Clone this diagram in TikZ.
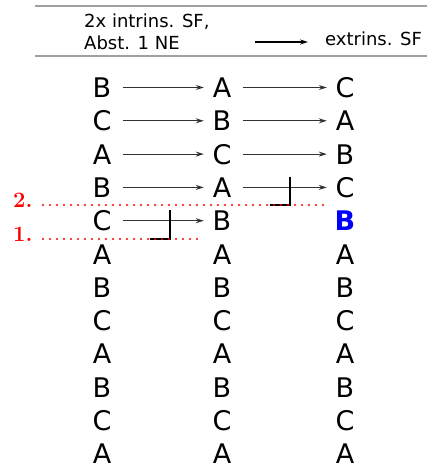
\documentclass[tikz,border=0pt]{standalone}
\usepackage{fontspec}
\setmainfont{DejaVu Sans}
\usetikzlibrary{arrows.meta}
\definecolor{rulegray}{RGB}{160,160,160}
\definecolor{arrgray}{RGB}{50,50,50}
\definecolor{dotred}{RGB}{255,0,0}
\definecolor{bblue}{RGB}{0,0,255}
\begin{document}
\begin{tikzpicture}[x=1pt,y=-1pt,
  letter/.style={font=\fontsize{27}{27}\selectfont, inner sep=0pt, minimum width=42pt,
    text height=20pt, text depth=0pt, anchor=base},
  arr/.style={draw=arrgray, line width=1.1pt, -{Stealth[length=8pt,width=5pt]}, shorten >=-3pt},
  hdr/.style={font=\fontsize{18}{22}\selectfont, inner sep=0pt, anchor=base west},
  rulel/.style={draw=rulegray, line width=2pt},
  brk/.style={draw=black, line width=2.4pt},
  reddot/.style={draw=dotred, line width=2.2pt, line cap=round, dash pattern=on 0pt off 7pt},
  redlab/.style={font=\fontspec{Latin Modern Roman}\bfseries\fontsize{22}{22}\selectfont, text=dotred, inner sep=0pt, anchor=base west}
]
\useasboundingbox (0,0) rectangle (427,470);
% header
\draw[rulel] (35,6) -- (427,6);
\draw[rulel] (35,56) -- (427,56);
\node[hdr] (h1) at (84,28) {2x intrins. SF,};
\node[hdr] (h2) at (84,50) {Abst. 1 NE};
\node[hdr] (h3) at (325,46) {extrins. SF};
\coordinate (hs) at (255,42);
\coordinate (he) at (305,42);
\draw[arr, draw=black] (hs) -- (he);
% letters
\foreach \i/\a/\b/\c in {1/B/A/C,2/C/B/A,3/A/C/B,4/B/A/C,5/C/B/B,6/A/A/A,7/B/B/B,8/C/C/C,9/A/A/A,10/B/B/B,11/C/C/C,12/A/A/A}{
  \pgfmathsetmacro{\yy}{97.5+33.3*(\i-1)}
  \node[letter] (p\i-1) at (102,\yy) {\a};
  \node[letter] (p\i-2) at (222,\yy) {\b};
  \ifnum\i=5
    \node[letter, font=\fontsize{27}{27}\selectfont\bfseries, text=bblue] (p\i-3) at (345,\yy) {\c};
  \else
    \node[letter] (p\i-3) at (345,\yy) {\c};
  \fi
}
% arrows
\foreach \i in {1,...,5}{ \draw[arr] (p\i-1.east) -- (p\i-2.west); }
\foreach \i in {1,...,4}{ \draw[arr] (p\i-2.east) -- (p\i-3.west); }
% brackets
\draw[brk] (290,177) -- (290,205) -- (270,205);
\draw[brk] (170,210) -- (170,239) -- (150,239);
% red dotted lines
\node[redlab] (l2) at (13,207) {2.};
\node[redlab] (l1) at (13,241) {1.};
\draw[reddot] (43,205) -- (325,205);
\draw[reddot] (43,239) -- (202,239);
\end{tikzpicture}
\end{document}
